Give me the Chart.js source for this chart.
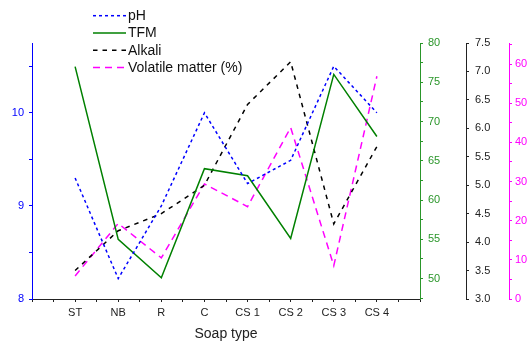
<!DOCTYPE html>
<html>
<head>
<meta charset="utf-8">
<script src="https://cdn.jsdelivr.net/npm/chart.js@4"></script>
<style>
  html, body { margin: 0; padding: 0; background: #fff; }
  canvas { display: block; }
</style>
</head>
<body>
<canvas id="chart" width="531" height="341"></canvas>
<script>
// ==================== data ====================

const SOAP_TYPES = ["ST", "NB", "R", "C", "CS 1", "CS 2", "CS 3", "CS 4"];

const PH = [9.30, 8.22, 9.0, 10.0, 9.24, 9.49, 10.5, 10.0];
const TFM = [77.0, 55.0, 50.1, 64.0, 63.1, 55.1, 76.0, 68.1];
const ALKALI = [3.5, 4.2, 4.5, 5.0, 6.42, 7.17, 4.32, 5.68];
const VOLATILE = [5.9, 19.3, 10.5, 29.4, 23.6, 43.8, 8.5, 56.9];

// tick values: major (labelled) and minor
const X_TICKS = [-1, -0.5, 0, 0.5, 1, 1.5, 2, 2.5, 3, 3.5, 4, 4.5, 5, 5.5, 6, 6.5, 7, 7.5, 8];
const PH_MAJOR = [8, 9, 10];
const PH_MINOR = [8.5, 9.5, 10.5];
const TFM_MAJOR = [50, 55, 60, 65, 70, 75, 80];
const TFM_MINOR = [47.5, 52.5, 57.5, 62.5, 67.5, 72.5, 77.5];
const ALKALI_MAJOR = [3.0, 3.5, 4.0, 4.5, 5.0, 5.5, 6.0, 6.5, 7.0, 7.5];
const ALKALI_MINOR = [3.25, 3.75, 4.25, 4.75, 5.25, 5.75, 6.25, 6.75, 7.25];
const VOLATILE_MAJOR = [0, 10, 20, 30, 40, 50, 60];
const VOLATILE_MINOR = [5, 15, 25, 35, 45, 55, 65];

// ==================== styles ====================

const FONT = '"Liberation Sans", Arial, sans-serif';
const BLUE = "#0000ff";
const GREEN = "#008000";
const GREEN_AXIS = "#2a962a";
const MAGENTA = "#ff00ff";

function points(values) {
  return values.map((v, i) => ({ x: i, y: v }));
}

function setTicks(major, minor) {
  return (scale) => {
    scale.ticks = major.concat(minor).sort((a, b) => a - b).map((v) => ({ value: v }));
  };
}

function fixWidth(w) {
  return (scale) => { scale.width = w; };
}

function yAxis(opts) {
  return {
    type: "linear",
    position: opts.position,
    weight: opts.weight,
    min: opts.min,
    max: opts.max,
    bounds: "data",
    afterBuildTicks: setTicks(opts.major, opts.minor),
    afterFit: fixWidth(opts.width),
    border: { display: true, color: opts.color, width: 1 },
    grid: { drawOnChartArea: false, drawTicks: true, tickLength: 3, color: opts.color, tickColor: opts.color },
    ticks: {
      color: opts.color,
      padding: opts.padding,
      font: { family: FONT, size: 11 },
      callback: (v) => (opts.major.includes(v) ? opts.format(v) : ""),
    },
  };
}

// legend drawn inside the top of the plot, like the original
const legendPlugin = {
  id: "insideLegend",
  afterDraw(chart) {
    const ctx = chart.ctx;
    ctx.save();
    ctx.font = "14px " + FONT;
    ctx.textBaseline = "middle";
    chart.data.datasets.forEach((ds, i) => {
      const y = 15.7 + i * 17.3;
      ctx.strokeStyle = ds.borderColor;
      ctx.lineWidth = ds.borderWidth;
      ctx.setLineDash(ds.borderDash || []);
      ctx.beginPath();
      ctx.moveTo(93, y);
      ctx.lineTo(126, y);
      ctx.stroke();
      ctx.setLineDash([]);
      ctx.fillStyle = "#111";
      ctx.fillText(ds.label, 128, y + 0.5);
    });
    ctx.restore();
  },
};

// ==================== chart ====================

new Chart(document.getElementById("chart"), {
  type: "line",
  data: {
    datasets: [
      { label: "pH", data: points(PH), yAxisID: "yPH", borderColor: BLUE, borderWidth: 1.5, borderDash: [3, 3] },
      { label: "TFM", data: points(TFM), yAxisID: "yTFM", borderColor: GREEN, borderWidth: 1.5 },
      { label: "Alkali", data: points(ALKALI), yAxisID: "yAlk", borderColor: "#000000", borderWidth: 1.5, borderDash: [4.5, 5] },
      { label: "Volatile matter (%)", data: points(VOLATILE), yAxisID: "yVM", borderColor: MAGENTA, borderWidth: 1.5, borderDash: [7, 5] },
    ],
  },
  options: {
    responsive: false,
    devicePixelRatio: 1,
    animation: false,
    layout: { padding: { top: 43, left: 0, right: 0, bottom: 0 } },
    elements: {
      point: { radius: 0 },
      line: { tension: 0, fill: false, backgroundColor: "transparent" },
    },
    plugins: { legend: { display: false }, tooltip: { enabled: false } },
    scales: {
      x: {
        type: "linear",
        position: "bottom",
        min: -1,
        max: 8,
        bounds: "data",
        afterBuildTicks: (scale) => { scale.ticks = X_TICKS.map((v) => ({ value: v })); },
        afterFit: (scale) => { scale.height = 42; },
        border: { display: true, color: "#222", width: 1 },
        grid: { drawOnChartArea: false, drawTicks: true, tickLength: 3, color: "#222", tickColor: "#222" },
        ticks: {
          autoSkip: false,
          maxRotation: 0,
          padding: 4,
          color: "#222",
          font: { family: FONT, size: 11 },
          callback: (v) => (Number.isInteger(v) && SOAP_TYPES[v] !== undefined ? SOAP_TYPES[v] : ""),
        },
        title: {
          display: true,
          text: "Soap type",
          color: "#222",
          font: { family: FONT, size: 14, lineHeight: 1.0 },
          padding: { top: 0, bottom: 0 },
        },
      },
      yPH: yAxis({
        position: "left", weight: 0, min: 8, max: 10.75, width: 32, padding: 5, color: BLUE,
        major: PH_MAJOR, minor: PH_MINOR, format: (v) => String(v),
      }),
      yTFM: yAxis({
        position: "right", weight: 0, min: 47.4, max: 80, width: 46, padding: 5, color: GREEN_AXIS,
        major: TFM_MAJOR, minor: TFM_MINOR, format: (v) => String(v),
      }),
      yAlk: yAxis({
        position: "right", weight: 1, min: 3, max: 7.5, width: 43, padding: 6, color: "#222",
        major: ALKALI_MAJOR, minor: ALKALI_MINOR, format: (v) => v.toFixed(1),
      }),
      yVM: yAxis({
        position: "right", weight: 2, min: 0, max: 65.4, width: 22, padding: 3, color: MAGENTA,
        major: VOLATILE_MAJOR, minor: VOLATILE_MINOR, format: (v) => String(v),
      }),
    },
  },
  plugins: [legendPlugin],
});
</script>
</body>
</html>
